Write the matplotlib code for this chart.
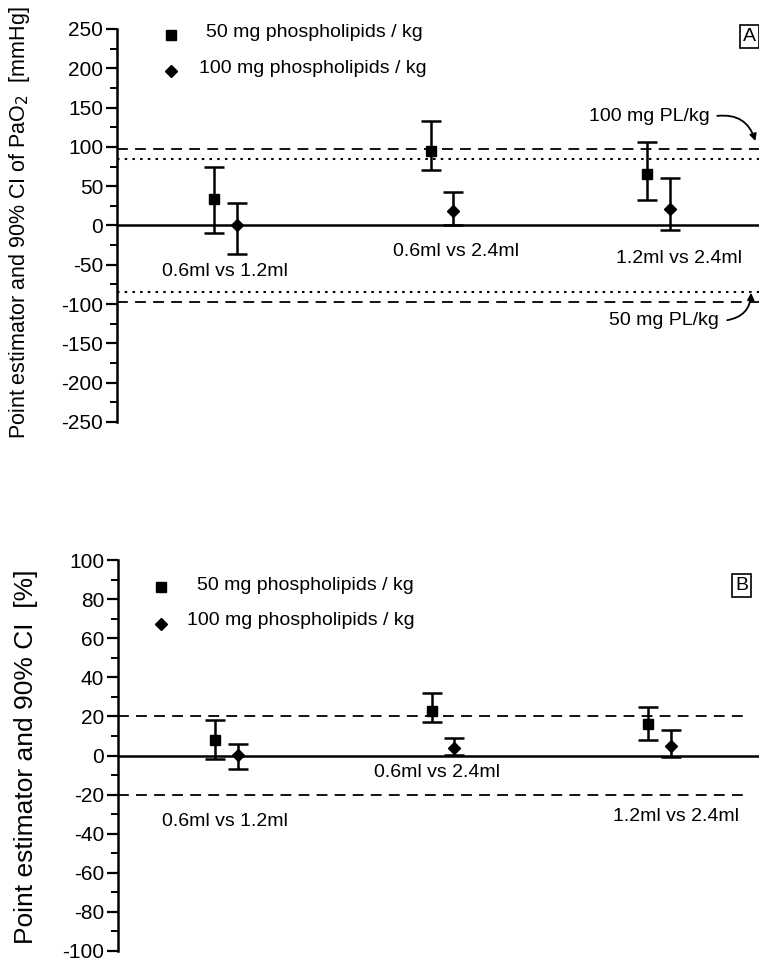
import matplotlib
matplotlib.use("Agg")
import matplotlib.pyplot as plt

plt.rcParams["font.family"] = ["Liberation Sans", "DejaVu Sans"]
plt.rcParams["axes.unicode_minus"] = False

# group positions along x (no x axis drawn)
groups = [1, 2, 3]

# Panel A: PaO2 [mmHg]
a_sq_est = [34, 95, 66]
a_sq_lo = [-9, 70, 33]
a_sq_hi = [75, 133, 106]
a_di_est = [1, 18, 21]
a_di_lo = [-36, 1, -6]
a_di_hi = [29, 43, 60]
a_dashed = [97, -97]
a_dotted = [85, -85]

# Panel B: [%]
b_sq_est = [8, 23, 16]
b_sq_lo = [-2, 17, 8]
b_sq_hi = [18, 32, 25]
b_di_est = [0.5, 4, 5]
b_di_lo = [-7, 0.5, -1]
b_di_hi = [6, 9, 13]
b_dashed = [20, -20]

legend_labels = ["50 mg phospholipids / kg", "100 mg phospholipids / kg"]
comparisons = ["0.6ml vs 1.2ml", "0.6ml vs 2.4ml", "1.2ml vs 2.4ml"]

W, H = 759, 961
fig = plt.figure(figsize=(W / 100, H / 100), dpi=100)


def px_axes(left, top, right, bottom):
    return fig.add_axes([left / W, 1 - bottom / H, (right - left) / W, (bottom - top) / H])


def style_axis(ax, ylim, major, minor):
    ax.set_xlim(0.5, 3.5)
    ax.set_ylim(*ylim)
    for s in ["top", "right", "bottom"]:
        ax.spines[s].set_visible(False)
    ax.spines["left"].set_linewidth(1.8)
    ax.set_xticks([])
    ax.set_yticks(range(ylim[0], ylim[1] + 1, major))
    ax.set_yticks(range(ylim[0], ylim[1] + 1, minor), minor=True)
    ax.tick_params(axis="y", which="major", length=8, width=1.6, labelsize=15, pad=2)
    ax.tick_params(axis="y", which="minor", length=5, width=1.4)
    ax.axhline(0, color="black", lw=1.8, zorder=1)


def draw_points(ax, est, lo, hi, dx, marker, ms):
    xs = [g + dx for g in groups]
    yerr = [[e - l for e, l in zip(est, lo)], [h - e for e, h in zip(est, hi)]]
    ax.errorbar(xs, est, yerr=yerr, fmt=marker, color="black", ms=ms,
                elinewidth=1.8, capsize=7.5, capthick=1.8, zorder=3)


# ---------- Panel A ----------
axA = px_axes(117, 29, 766, 422)
style_axis(axA, (-250, 250), 50, 25)
for y in a_dashed:
    axA.plot([0.5, 3.5], [y, y], color="black", lw=1.3, dashes=(6, 4))
for y in a_dotted:
    axA.plot([0.5, 3.5], [y, y], color="black", lw=1.5, dashes=(1.2, 2.5))
draw_points(axA, a_sq_est, a_sq_lo, a_sq_hi, -0.05, "s", 7)
draw_points(axA, a_di_est, a_di_lo, a_di_hi, 0.055, "D", 6)

axA.plot(0.75, 243, "s", color="black", ms=7)
axA.text(0.912, 245, legend_labels[0], fontsize=14, va="center", ha="left")
axA.plot(0.75, 196, "D", color="black", ms=6)
axA.text(0.88, 200, legend_labels[1], fontsize=14, va="center", ha="left")

axA.text(1.0, -58, comparisons[0], fontsize=14, ha="center", va="center")
axA.text(2.065, -33, comparisons[1], fontsize=14, ha="center", va="center")
axA.text(3.10, -42, comparisons[2], fontsize=14, ha="center", va="center")

axA.text(2.963, 139, "100 mg PL/kg", fontsize=14, ha="center", va="center")
axA.annotate("", xy=(3.454, 104), xytext=(3.262, 139),
             arrowprops=dict(arrowstyle="-|>", color="black", lw=1.3,
                             connectionstyle="arc3,rad=-0.45", mutation_scale=10))
axA.text(3.03, -121, "50 mg PL/kg", fontsize=14, ha="center", va="center")
axA.annotate("", xy=(3.431, -82), xytext=(3.308, -121),
             arrowprops=dict(arrowstyle="-|>", color="black", lw=1.3,
                             connectionstyle="arc3,rad=0.45", mutation_scale=10))
axA.text(3.425, 240, "A", fontsize=14, ha="center", va="center",
         bbox=dict(boxstyle="square,pad=0.15", fc="white", ec="black", lw=1.2))

fig.text(20 / W, 1 - 223 / H, "Point estimator and 90% CI of PaO$_2$  [mmHg]",
         rotation=90, fontsize=15.5, ha="center", va="center")

# ---------- Panel B ----------
axB = px_axes(118, 560, 767, 951)
style_axis(axB, (-100, 100), 20, 10)
for y in b_dashed:
    axB.plot([0.5, 3.40], [y, y], color="black", lw=1.3, dashes=(6, 4))
draw_points(axB, b_sq_est, b_sq_lo, b_sq_hi, -0.05, "s", 7)
draw_points(axB, b_di_est, b_di_lo, b_di_hi, 0.055, "D", 6)

axB.plot(0.70, 86, "s", color="black", ms=7)
axB.text(0.863, 87, legend_labels[0], fontsize=14, va="center", ha="left")
axB.plot(0.70, 67.5, "D", color="black", ms=6)
axB.text(0.817, 69, legend_labels[1], fontsize=14, va="center", ha="left")

axB.text(0.995, -34, comparisons[0], fontsize=14, ha="center", va="center")
axB.text(1.975, -8.6, comparisons[1], fontsize=14, ha="center", va="center")
axB.text(3.08, -31, comparisons[2], fontsize=14, ha="center", va="center")

axB.text(3.384, 87, "B", fontsize=14, ha="center", va="center",
         bbox=dict(boxstyle="square,pad=0.15", fc="white", ec="black", lw=1.2))

fig.text(26 / W, 1 - 757 / H, "Point estimator and 90% CI  [%]",
         rotation=90, fontsize=19, ha="center", va="center")

fig.savefig("out.png", dpi=100, facecolor="white")
